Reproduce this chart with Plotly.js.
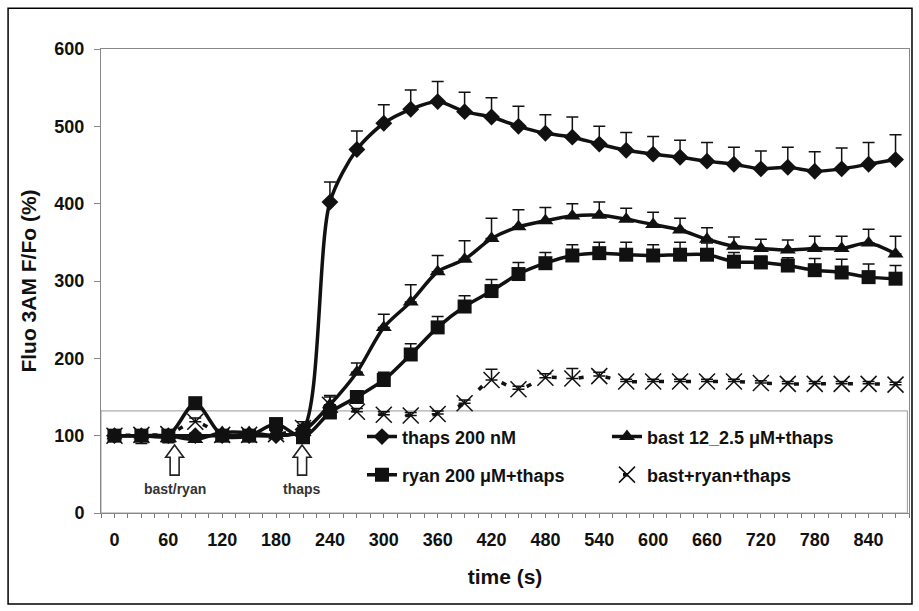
<!DOCTYPE html>
<html>
<head>
<meta charset="utf-8">
<script src="https://cdn.plot.ly/plotly-3.0.1.min.js"></script>
<style>
html,body{margin:0;padding:0;background:#fff;}
#chart{width:919px;height:611px;}
</style>
</head>
<body>
<div id="chart"></div>
<script>
// time points (s)
var timeS = [0,30,60,90,120,150,180,210,240,270,300,330,360,390,420,450,480,510,540,570,600,630,660,690,720,750,780,810,840,870];
var xTickVals = [0,60,120,180,240,300,360,420,480,540,600,660,720,780,840];
var xTickText = ["0","60","120","180","240","300","360","420","480","540","600","660","720","780","840"];

var seriesNames = ["thaps 200 nM","bast 12_2.5 \u03bcM+thaps","ryan 200 \u03bcM+thaps","bast+ryan+thaps"];

var thaps    = [100,100,100,100,100,100,100,108,402,470,504,522,532,519,512,500,491,486,477,469,464,460,455,451,445,447,442,445,451,457];
var thapsErr = [0,0,0,3,0,0,0,5,26,24,24,25,26,25,25,26,24,26,23,23,23,22,24,22,23,26,25,27,28,32];

var bast     = [100,100,100,95,104,104,100,106,140,182,240,273,312,328,355,370,378,384,385,380,373,366,354,345,342,340,342,342,349,335];
var bastErr  = [0,0,0,5,0,0,0,3,10,12,17,22,21,24,26,22,17,16,17,14,16,15,15,12,12,13,16,16,18,23];

var ryan     = [100,100,100,142,100,100,115,98,130,150,172,205,240,267,287,309,323,333,336,334,333,334,334,325,324,320,314,311,305,303];
var ryanErr  = [0,0,0,5,0,0,3,0,5,8,10,14,14,14,15,15,14,14,14,16,14,16,15,12,8,10,15,17,17,17];

var combo      = [100,101,102,118,101,101,102,110,140,131,127,126,128,142,172,160,175,174,177,170,170,170,170,170,168,167,167,167,167,166];
var comboErr   = [0,3,3,5,3,3,3,8,12,4,4,4,4,4,14,4,5,13,5,3,3,3,3,3,3,3,3,3,3,3];
var comboErrLo = [0,11,11,0,0,0,0,11,0,0,0,0,0,0,0,0,0,0,0,0,0,0,0,0,0,0,0,0,0,0];

var zeros = timeS.map(function(){return 0;});
var ink = '#111111';

function errObj(arr, minus){
  return {type:'data', symmetric:false, array:arr, arrayminus: minus||zeros, color:ink, thickness:1.5, width:6, visible:true};
}

var traces = [
  {x:timeS, y:thaps, name:seriesNames[0], type:'scatter', mode:'lines+markers',
   line:{color:ink, width:3.5, shape:'spline', smoothing:0.8},
   marker:{symbol:'diamond', size:13, color:ink},
   error_y: errObj(thapsErr), legend:'legend'},
  {x:timeS, y:bast, name:seriesNames[1], type:'scatter', mode:'lines+markers',
   line:{color:ink, width:3.5, shape:'spline', smoothing:0.8},
   marker:{symbol:'triangle-up', size:14, color:ink},
   error_y: errObj(bastErr), legend:'legend'},
  {x:timeS, y:ryan, name:seriesNames[2], type:'scatter', mode:'lines+markers',
   line:{color:ink, width:3.5, shape:'spline', smoothing:0.8},
   marker:{symbol:'square', size:14, color:ink},
   error_y: errObj(ryanErr), legend:'legend2'},
  {x:timeS, y:combo, name:seriesNames[3], type:'scatter', mode:'lines+markers',
   line:{color:ink, width:3.5, shape:'spline', smoothing:0.8, dash:'0px,11px,5px,11px'},
   marker:{symbol:'x-thin-open', size:16, color:ink, line:{color:ink, width:1.5}},
   error_y: errObj(comboErr, comboErrLo), legend:'legend2'}
];

function f(sz, col){ return {family:'"Liberation Sans", Arial, sans-serif', weight:700, size:sz, color:col||'#111'}; }

function arrowPath(cx){
  return 'M '+cx+',88 L '+(cx+10)+',72 L '+(cx+5)+',72 L '+(cx+5)+',49 L '+(cx-5)+',49 L '+(cx-5)+',72 L '+(cx-10)+',72 Z';
}

var layout = {
  width:919, height:611,
  margin:{l:101, r:10, t:49, b:98},
  paper_bgcolor:'#fff', plot_bgcolor:'rgba(0,0,0,0)',
  showlegend:true,
  xaxis:{
    range:[-15,885], tickmode:'array', tickvals:xTickVals, ticktext:xTickText,
    ticks:'outside', ticklen:4, tickwidth:1, tickcolor:'#777',
    minor:{dtick:15, tick0:-15, ticks:'outside', ticklen:4, tickcolor:'#777', tickwidth:1, showgrid:false},
    showline:true, linecolor:'#888', linewidth:1, mirror:true,
    showgrid:false, zeroline:false,
    tickfont:f(18), ticklabelstandoff:6,
    title:{text:'time (s)', font:f(21), standoff:20}
  },
  yaxis:{
    range:[0,600], tickvals:[0,100,200,300,400,500,600],
    ticks:'outside', ticklen:6, tickwidth:1, tickcolor:'#888',
    showline:true, linecolor:'#888', linewidth:1, mirror:true,
    showgrid:false, zeroline:false,
    tickfont:f(18), ticklabelstandoff:6,
    title:{text:'Fluo 3AM F/Fo (%)', font:f(21), standoff:12}
  },
  legend:{orientation:'h', x:0.323, xanchor:'left', y:0.164, yanchor:'middle',
    bgcolor:'rgba(0,0,0,0)', borderwidth:0, font:f(18), entrywidth:200, entrywidthmode:'pixels', itemsizing:'trace'},
  legend2:{orientation:'h', x:0.323, xanchor:'left', y:0.082, yanchor:'middle',
    bgcolor:'rgba(0,0,0,0)', borderwidth:0, font:f(18), entrywidth:200, entrywidthmode:'pixels', itemsizing:'trace'},
  shapes:[
    {type:'rect', xref:'paper', yref:'paper', x0:0, x1:0.998, y0:0, y1:0.22, line:{color:'#999', width:1}, fillcolor:'rgba(0,0,0,0)', layer:'below'},
    {type:'rect', xref:'paper', yref:'paper', x0:-0.115, x1:1.0037, y0:-0.196, y1:1.088, line:{color:'#000', width:1.5}, fillcolor:'rgba(0,0,0,0)', layer:'below'},
    {type:'path', xref:'x', yref:'y', path:arrowPath(67), line:{color:'#222', width:1.6}, fillcolor:'#fff', layer:'above'},
    {type:'path', xref:'x', yref:'y', path:arrowPath(209), line:{color:'#222', width:1.6}, fillcolor:'#fff', layer:'above'}
  ],
  annotations:[
    {x:67, y:31, xref:'x', yref:'y', text:'bast/ryan', showarrow:false, font:f(14,'#333')},
    {x:209, y:31, xref:'x', yref:'y', text:'thaps', showarrow:false, font:f(14,'#333')}
  ]
};

Plotly.newPlot('chart', traces, layout, {displayModeBar:false, staticPlot:true});
</script>
</body>
</html>
